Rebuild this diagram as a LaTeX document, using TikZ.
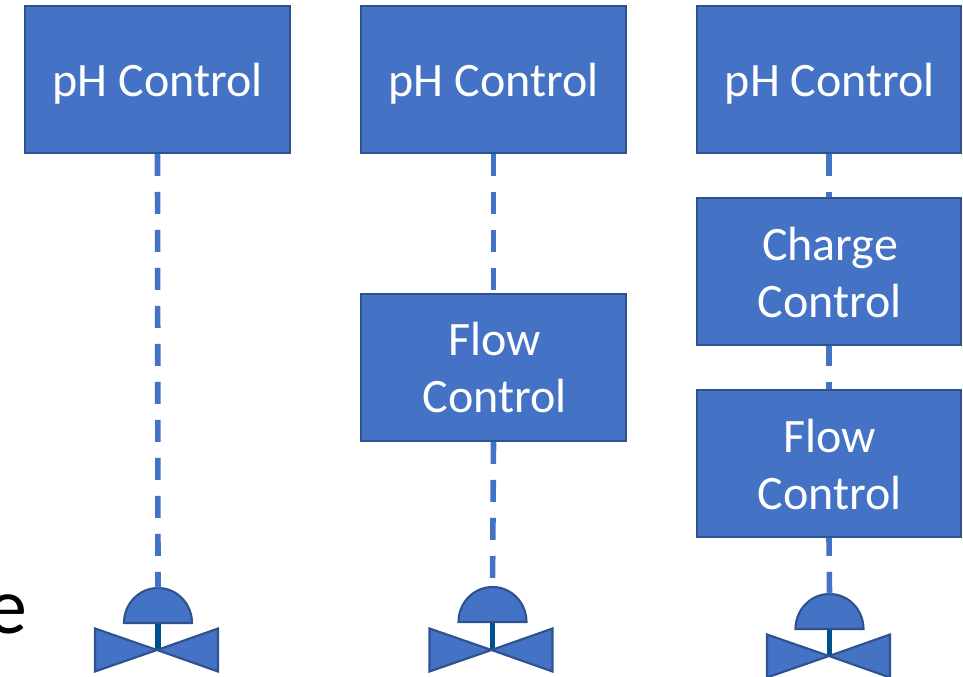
\documentclass[tikz,border=0pt]{standalone}
\usepackage{fontspec}
\setmainfont{Carlito}
\definecolor{boxfill}{HTML}{4472C4}
\definecolor{boxedge}{HTML}{2F528F}
\definecolor{stemc}{HTML}{00508F}
\tikzset{
  ctrl/.style={draw=boxedge,fill=boxfill,line width=1.6pt,minimum width=198.2pt,minimum height=110pt,inner sep=0pt,text=white,align=center,font=\fontsize{36pt}{42.75pt}\selectfont},
  oneline/.style={text height=32.2pt,text depth=7pt},
  signal/.style={draw=boxfill,line width=4.2pt,dash pattern=on 16.5pt off 12pt},
  valveshape/.style={draw=boxedge,fill=boxfill,line width=1.6pt,line join=miter},
  stemline/.style={draw=stemc,line width=3.8pt}
}
\newcommand{\valve}[5]{% name, stem x, y of bow-tie centre, y of dome base, bow-tie x
  \draw[stemline] (#2,#4) -- (#2,#3);
  \draw[valveshape] (#5,#3) -- (#5-62,#3-21.5) -- (#5-62,#3+21.5) -- cycle;
  \draw[valveshape] (#5,#3) -- (#5+61,#3-21.5) -- (#5+61,#3+21.5) -- cycle;
  \draw[valveshape] (#2-34,#4) arc[start angle=180,end angle=0,x radius=34,y radius=-35] -- cycle;
  \coordinate (#1) at (#2,#4-35);
}
\newcommand{\nudge}{\hspace*{1.5pt}}
\begin{document}
\begin{tikzpicture}[x=0.75pt,y=-0.75pt]
\useasboundingbox (0,0) rectangle (963,677);
\clip (0,0) rectangle (963,677);
\node[anchor=east,inner sep=0pt,font=\fontsize{60pt}{70pt}\selectfont] (frag) at (28,614) {e};
\node[ctrl,oneline] (ph1) at (157.5,79.5) {pH Control};
\node[ctrl,oneline] (ph2) at (493.5,79.5) {pH Control};
\node[ctrl,oneline] (ph3) at (829,79.5) {\nudge pH Control};
\node[ctrl] (flow2) at (493.5,367.5) {\nudge Flow\\\nudge Control};
\node[ctrl] (charge3) at (829,271.5) {\rule{0pt}{26.5pt}\nudge Charge\\\nudge Control};
\node[ctrl] (flow3) at (829,463.5) {\rule{0pt}{26.5pt}\nudge Flow\\\nudge Control};
\valve{v1}{158}{650}{623}{157}
\valve{v2}{492.5}{650}{622}{491.5}
\valve{v3}{829.5}{656}{629}{829}
\draw[signal] (ph1.south) -- (v1);
\draw[signal] (ph2.south) -- (flow2.north);
\draw[signal] (flow2.south) -- (v2);
\draw[signal] (ph3.south) -- (charge3.north);
\draw[signal,dash phase=1.5pt] (charge3.south) -- (flow3.north);
\draw[signal,dash phase=3pt] (flow3.south) -- (v3);
\end{tikzpicture}
\end{document}
